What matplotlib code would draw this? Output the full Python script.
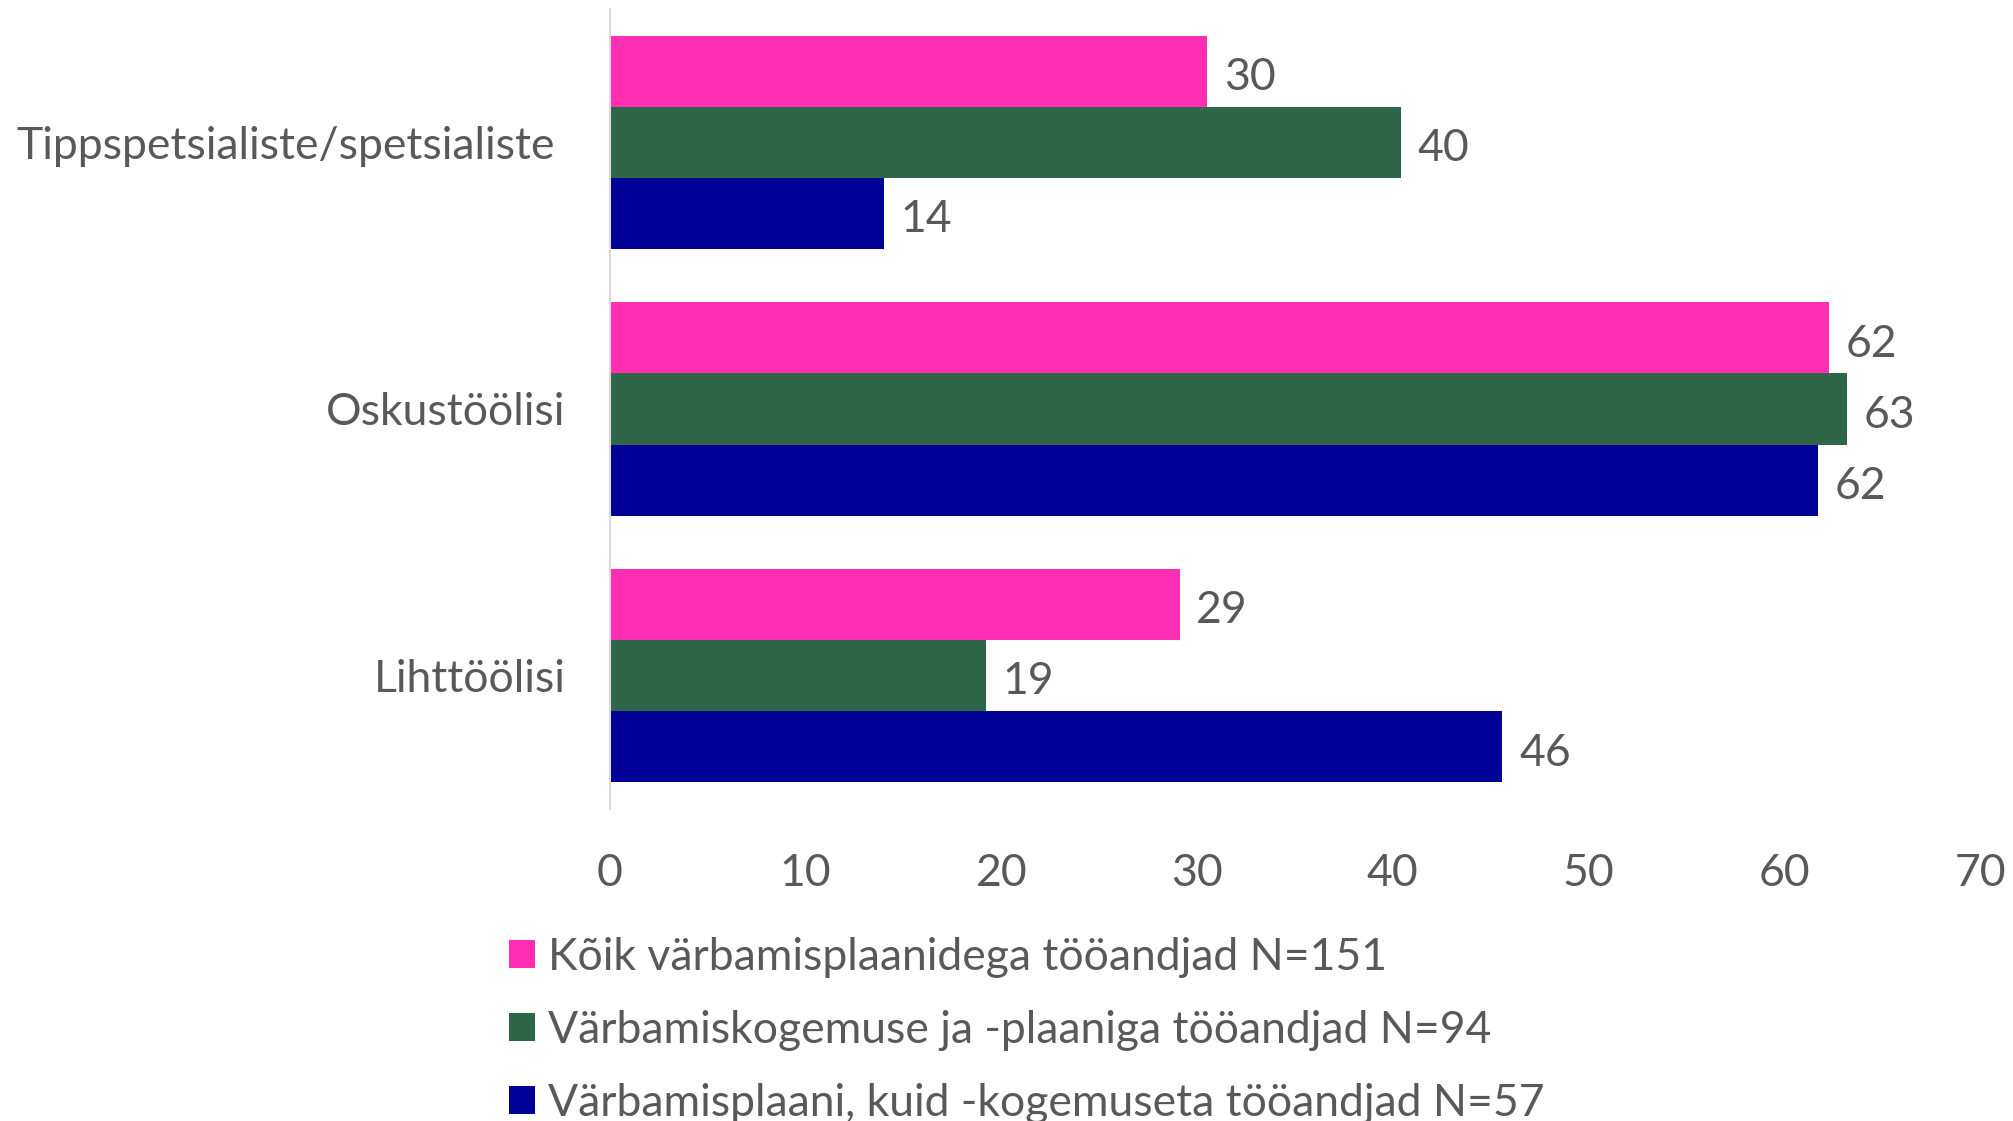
import matplotlib
matplotlib.use("Agg")
import matplotlib.pyplot as plt
import matplotlib.transforms as mtransforms
import numpy as np

categories = ["Tippspetsialiste/spetsialiste", "Oskustöölisi", "Lihttöölisi"]
series_names = ["Kõik värbamisplaanidega tööandjad N=151",
                "Värbamiskogemuse ja -plaaniga tööandjad N=94",
                "Värbamisplaani, kuid -kogemuseta tööandjad N=57"]
all_employers = [30.5, 62.3, 29.1]
experienced = [40.4, 63.2, 19.2]
no_experience = [14.0, 61.7, 45.6]
xticks = [0, 10, 20, 30, 40, 50, 60, 70]

colors = ["#FF2EB2", "#2F6549", "#000097"]
text_color = "#595959"
plt.rcParams['font.family'] = ['Lato', 'DejaVu Sans']
fs = 32

W, H = 2013, 1121
fig = plt.figure(figsize=(W / 100, H / 100), dpi=100)
ax = fig.add_axes([610 / W, 1 - 809 / H, (1980 - 610) / W, (809 - 9) / H])

series = [all_employers, experienced, no_experience]
n = len(series)
bh = 0.8 / n
y = np.arange(len(categories))
for i, (vals, c, name) in enumerate(zip(series, colors, series_names)):
    pos = y - 0.4 + bh * (i + 0.5)
    bars = ax.barh(pos, vals, height=bh, color=c, label=name, edgecolor='none')
    for b, v in zip(bars, vals):
        ax.annotate(f"{v:.0f}", (v, b.get_y() + b.get_height() / 2),
                    xytext=(12, -4.5), textcoords='offset points',
                    va='center', ha='left', fontsize=fs, color=text_color)

ax.set_ylim(len(categories) - 0.5, -0.5)
ax.set_xlim(0, 70)
ax.set_xticks(xticks)
ax.set_yticks(y)
ax.set_yticklabels(categories)
ax.tick_params(axis='both', length=0, labelsize=fs, labelcolor=text_color)
ax.tick_params(axis='y', pad=32)
ax.tick_params(axis='x', pad=31.5)
for s in ['top', 'right', 'bottom']:
    ax.spines[s].set_visible(False)
ax.spines['left'].set_color('#D9D9D9')
ax.spines['left'].set_linewidth(1.5)

# first category label sits slightly further left in the reference
lbl = ax.get_yticklabels()[0]
lbl.set_transform(lbl.get_transform() +
                  mtransforms.ScaledTranslation(-11 / 100, 0, fig.dpi_scale_trans))

leg = fig.legend(loc='upper left', bbox_to_anchor=(509 / W, 1 - 937 / H),
                 frameon=False, fontsize=fs, handlelength=0.58, handleheight=0.58,
                 handletextpad=0.3, labelspacing=0.72, borderpad=0, borderaxespad=0)
for t in leg.get_texts():
    t.set_color(text_color)

fig.savefig("out.png", dpi=100)
